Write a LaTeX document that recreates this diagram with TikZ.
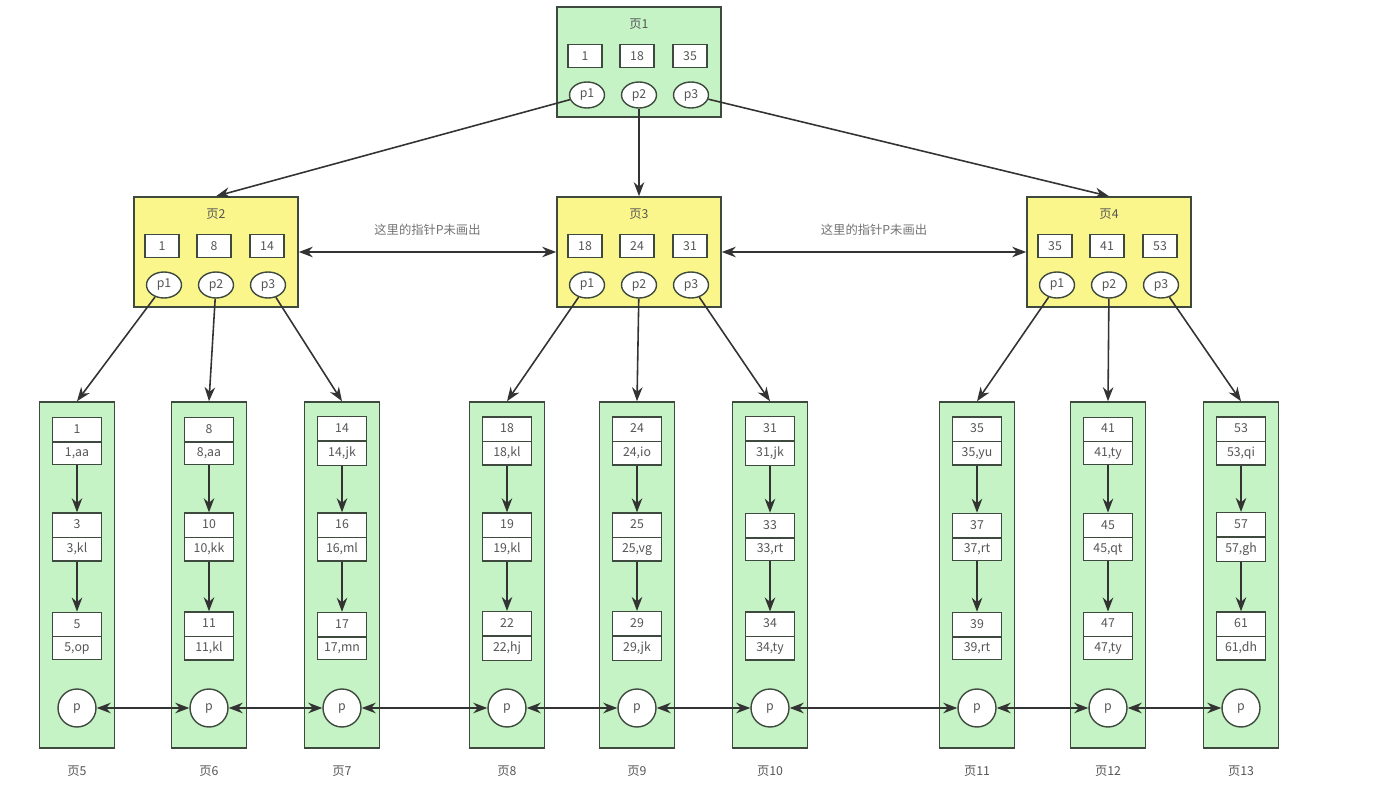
\documentclass[tikz,border=0pt]{standalone}
\usepackage{fontspec}
\setmainfont{Noto Sans CJK SC}
\usetikzlibrary{arrows.meta,positioning,shapes.geometric,shapes.multipart}
\definecolor{pagegreen}{HTML}{C6F3C6}
\definecolor{pageyellow}{HTML}{FBF68C}
\definecolor{edgegrey}{HTML}{3E4A3E}
\definecolor{textgrey}{HTML}{555555}
\begin{document}
\begin{tikzpicture}[x=0.02cm, y=-0.02cm,
        every node/.style = {font=\fontsize{7}{8}\selectfont, text=textgrey},
        page/.style = {draw=edgegrey, line width=0.9pt,
        minimum width=3.28cm, minimum height=2.2cm},
        leaf/.style = {draw=edgegrey, line width=0.9pt, fill=pagegreen,
        minimum width=1.5cm, minimum height=6.92cm},
        keybox/.style = {draw=edgegrey, line width=0.8pt, fill=white,
        minimum width=0.68cm, minimum height=0.46cm, inner sep=0pt},
        ptr/.style = {ellipse, draw=edgegrey, line width=0.8pt, fill=white,
        minimum width=0.7cm, minimum height=0.52cm, inner sep=0pt},
        rec/.style = {rectangle split, rectangle split parts=2, draw=edgegrey,
        line width=0.8pt, fill=white, minimum width=0.98cm,
        text height=0.2cm, text depth=0.06cm, inner ysep=0.1cm, inner xsep=0pt},
        leafptr/.style = {circle, draw=edgegrey, line width=0.8pt, fill=white,
        minimum size=0.76cm, inner sep=0pt},
        link/.style = {draw=black!80, line width=0.9pt,
        -{Stealth[length=8pt, width=6pt]}},
        both/.style = {draw=black!80, line width=0.9pt,
        {Stealth[length=8pt, width=6pt]}-{Stealth[length=8pt, width=6pt]}}]
    \useasboundingbox (0,0) rectangle (1392,800);
    % inner pages
    \foreach \cx/\cy/\pg/\col/\ka/\kb/\kc in {639/62/1/pagegreen/1/18/35,
            216/252/2/pageyellow/1/8/14, 639/252/3/pageyellow/18/24/31,
            1109/252/4/pageyellow/35/41/53} {
        \node[page, fill=\col] (pg\pg) at (\cx,\cy) {};
        \node (title\pg) at (\cx,\cy-38) {页\pg};
        \node[keybox] (key\pg-1) at (\cx-54,\cy-6) {\ka};
        \node[keybox] (key\pg-2) at (\cx-2,\cy-6) {\kb};
        \node[keybox] (key\pg-3) at (\cx+51,\cy-6) {\kc};
        \node[ptr] (ptr\pg-1) at (\cx-52,\cy+33) {p1};
        \node[ptr] (ptr\pg-2) at (\cx,\cy+33) {p2};
        \node[ptr] (ptr\pg-3) at (\cx+52,\cy+33) {p3};
    }
    % leaf pages
    \foreach \cx/\pg/\ka/\va/\kb/\vb/\kc/\vc in {
            77/5/1/{1,aa}/3/{3,kl}/5/{5,op},
            209/6/8/{8,aa}/10/{10,kk}/11/{11,kl},
            342/7/14/{14,jk}/16/{16,ml}/17/{17,mn},
            507/8/18/{18,kl}/19/{19,kl}/22/{22,hj},
            637/9/24/{24,io}/25/{25,vg}/29/{29,jk},
            770/10/31/{31,jk}/33/{33,rt}/34/{34,ty},
            977/11/35/{35,yu}/37/{37,rt}/39/{39,rt},
            1108/12/41/{41,ty}/45/{45,qt}/47/{47,ty},
            1241/13/53/{53,qi}/57/{57,gh}/61/{61,dh}} {
        \node[leaf] (leaf\pg) at (\cx,575) {};
        \node[rec] (rec\pg-1) at (\cx,441) {\ka\nodepart{two}\va};
        \node[rec] (rec\pg-2) at (\cx,537) {\kb\nodepart{two}\vb};
        \node[rec] (rec\pg-3) at (\cx,636) {\kc\nodepart{two}\vc};
        \node[leafptr] (lp\pg) at (\cx,708) {p};
        \node[below=0.22cm of leaf\pg] (name\pg) {页\pg};
        \draw[link] (rec\pg-1) -- (rec\pg-2);
        \draw[link] (rec\pg-2) -- (rec\pg-3);
    }
    % pointers
    \draw[link] (ptr1-1) -- (pg2.north);
    \draw[link] (ptr1-2) -- (pg3.north);
    \draw[link] (ptr1-3) -- (pg4.north);
    \foreach \pg/\la/\lb/\lc in {2/5/6/7, 3/8/9/10, 4/11/12/13} {
        \draw[link] (ptr\pg-1) -- (leaf\la.north);
        \draw[link] (ptr\pg-2) -- (leaf\lb.north);
        \draw[link] (ptr\pg-3) -- (leaf\lc.north);
    }
    \draw[both] (pg2.east) -- (pg3.west)
        node[midway, above=0.2cm, text=black!55] {这里的指针P未画出};
    \draw[both] (pg3.east) -- (pg4.west)
        node[midway, above=0.2cm, text=black!55] {这里的指针P未画出};
    \foreach \a/\b in {5/6, 6/7, 7/8, 8/9, 9/10, 10/11, 11/12, 12/13}
        \draw[both] (lp\a) -- (lp\b);
\end{tikzpicture}
\end{document}
